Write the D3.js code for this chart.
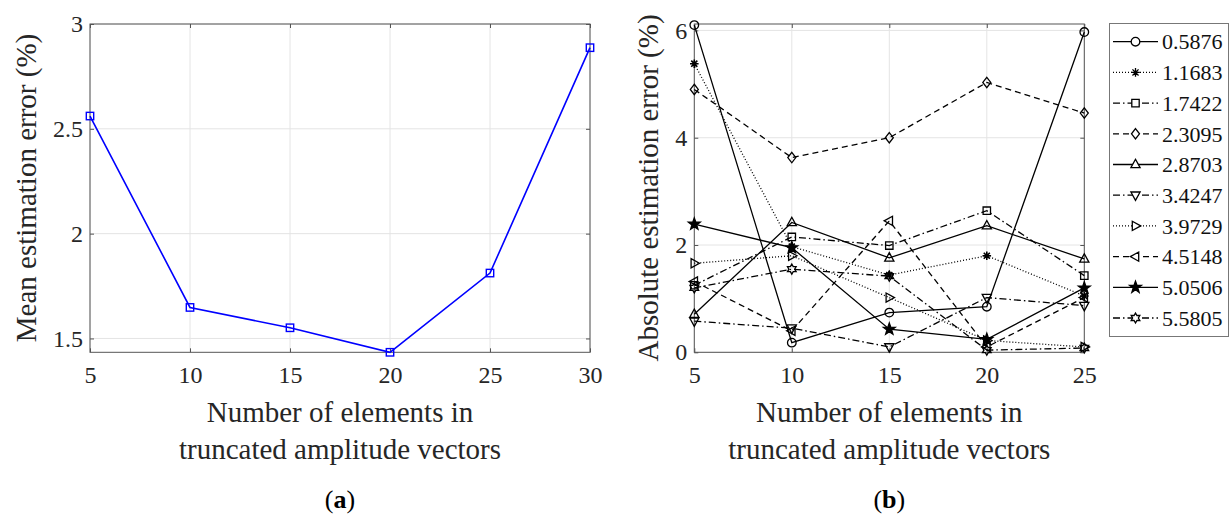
<!DOCTYPE html>
<html>
<head>
<meta charset="utf-8">
<script src="https://cdn.jsdelivr.net/npm/d3@7"></script>
<style>
body { margin: 0; background: #fff; }
svg { display: block; font-family: "Liberation Serif", "DejaVu Serif", serif; }
</style>
</head>
<body>
<svg width="1230" height="518"></svg>
<script>
// panel (a): mean error against number of elements
const nElemA = [5, 10, 15, 20, 25, 30];
const meanErr = [2.561, 1.648, 1.551, 1.434, 1.812, 2.887];
const yTicksA = [1.5, 2, 2.5, 3];

// panel (b): absolute error for each frequency
const nElemB = [5, 10, 15, 20, 25];
const yTicksB = [0, 2, 4, 6];
const freqLabels = ["0.5876", "1.1683", "1.7422", "2.3095", "2.8703",
                    "3.4247", "3.9729", "4.5148", "5.0506", "5.5805"];
const err0587 = [6.10, 0.18, 0.74, 0.85, 5.97];
const err1168 = [5.38, 1.97, 1.44, 1.80, 1.05];
const err1742 = [1.25, 2.15, 1.99, 2.64, 1.43];
const err2309 = [4.90, 3.63, 4.00, 5.03, 4.46];
const err2870 = [0.71, 2.42, 1.76, 2.36, 1.74];
const err3424 = [0.58, 0.45, 0.10, 1.02, 0.87];
const err3972 = [1.66, 1.80, 1.02, 0.22, 0.10];
const err4514 = [1.32, 0.40, 2.45, 0.10, 1.02];
const err5050 = [2.39, 1.95, 0.43, 0.24, 1.20];
const err5580 = [1.20, 1.55, 1.42, 0.04, 0.08];
const errB = [err0587, err1168, err1742, err2309, err2870,
              err3424, err3972, err4514, err5050, err5580];

// line style + marker for each series (matlab style)
const dashes = {solid: null, dot: "1,2", dash: "6,4", dashdot: "7,3,1.5,3"};
const lineStyle = ["solid", "dot", "dashdot", "dash", "solid", "dashdot", "dot", "dash", "solid", "dashdot"];
const markerType = ["circle", "asterisk", "square", "diamond", "tri-up", "tri-down", "tri-right", "tri-left", "pentagram", "hexagram"];

svg = d3.select("svg");
textCol = "#262626";

function polygon(pts) {
    return "M" + pts.map(function(p) {return p[0].toFixed(2) + "," + p[1].toFixed(2);}).join("L") + "Z";
}

function star(n, ro, ri) { // n-pointed star, first point up
    pts = [];
    for (i = 0; i < 2*n; i++) {
        r = i % 2 ? ri : ro;
        a = -Math.PI/2 + i*Math.PI/n;
        pts.push([r*Math.cos(a), r*Math.sin(a)]);
    }
    return polygon(pts);
}

function markerPath(type) {
    if (type == "circle") return d3.symbol().type(d3.symbolCircle).size(58)();
    if (type == "square") return polygon([[-3.7,-3.7],[3.7,-3.7],[3.7,3.7],[-3.7,3.7]]);
    if (type == "diamond") return polygon([[0,-5.2],[4,0],[0,5.2],[-4,0]]);
    if (type == "tri-up") return polygon([[0,-5.2],[4.6,3.2],[-4.6,3.2]]);
    if (type == "tri-down") return polygon([[0,5.2],[4.6,-3.2],[-4.6,-3.2]]);
    if (type == "tri-right") return polygon([[5.2,0],[-3.2,-4.6],[-3.2,4.6]]);
    if (type == "tri-left") return polygon([[-5.2,0],[3.2,-4.6],[3.2,4.6]]);
    if (type == "pentagram") return star(5, 6.2, 2.5);
    if (type == "hexagram") return star(6, 5, 2.9);
    // asterisk: + and x strokes
    r = 4.3; q = r*0.707;
    return "M" + (-r) + ",0L" + r + ",0M0," + (-r) + "L0," + r +
           "M" + (-q) + "," + (-q) + "L" + q + "," + q + "M" + (-q) + "," + q + "L" + q + "," + (-q);
}

function markerFill(type) {
    return type == "pentagram" ? "#000" : "none";
}

function build_axes(x, y, xTicks, yTicks) {
    x0 = x.range()[0]; x1 = x.range()[1];
    yb = y.range()[0]; yt = y.range()[1];
    g = svg.append("g");

    g.selectAll(".gx").data(xTicks).enter().append("line") // vertical grid
    .attr("x1", function(d) {return x(d);})
    .attr("x2", function(d) {return x(d);})
    .attr("y1", yt).attr("y2", yb)
    .attr("stroke", "#e4e4e4");

    g.selectAll(".gy").data(yTicks).enter().append("line") // horizontal grid
    .attr("y1", function(d) {return y(d);})
    .attr("y2", function(d) {return y(d);})
    .attr("x1", x0).attr("x2", x1)
    .attr("stroke", "#e4e4e4");

    axes = [
        g.append("g").attr("transform", "translate(0," + yb + ")")
         .call(d3.axisBottom(x).tickValues(xTicks).tickSizeInner(-4).tickSizeOuter(0).tickPadding(14)),
        g.append("g").attr("transform", "translate(0," + yt + ")")
         .call(d3.axisTop(x).tickValues(xTicks).tickSizeInner(-4).tickSizeOuter(0).tickFormat("")),
        g.append("g").attr("transform", "translate(" + x0 + ",0)")
         .call(d3.axisLeft(y).tickValues(yTicks).tickSizeInner(-4).tickSizeOuter(0).tickPadding(7).tickFormat(function(d) {return String(d);})),
        g.append("g").attr("transform", "translate(" + x1 + ",0)")
         .call(d3.axisRight(y).tickValues(yTicks).tickSizeInner(-4).tickSizeOuter(0).tickFormat(""))
    ];
    axes.forEach(function(a) {
        a.attr("font-family", null).attr("font-size", null);
        a.select(".domain").remove();
        a.selectAll(".tick line").attr("stroke", "#555");
        a.selectAll(".tick text").attr("font-size", 24).attr("fill", textCol);
    });

    g.append("rect") // box
    .attr("x", x0).attr("y", yt)
    .attr("width", x1 - x0).attr("height", yb - yt)
    .attr("fill", "none")
    .attr("stroke", "#555");
    return g;
}

function axis_labels(cx, ylabX, ylab, tag) {
    svg.append("text")
    .attr("transform", "translate(" + ylabX + ",188) rotate(-90)")
    .attr("text-anchor", "middle")
    .attr("font-size", 29).attr("fill", textCol)
    .text(ylab);

    svg.append("text")
    .attr("x", cx).attr("y", 421.5)
    .attr("text-anchor", "middle")
    .attr("font-size", 29).attr("fill", textCol)
    .text("Number of elements in");
    svg.append("text")
    .attr("x", cx).attr("y", 459)
    .attr("text-anchor", "middle")
    .attr("font-size", 29).attr("fill", textCol)
    .text("truncated amplitude vectors");

    t = svg.append("text")
    .attr("x", cx).attr("y", 508)
    .attr("text-anchor", "middle")
    .attr("font-size", 26).attr("fill", "#000");
    t.append("tspan").text("(");
    t.append("tspan").attr("font-weight", "bold").text(tag);
    t.append("tspan").text(")");
}

// ---- panel (a)
xA = d3.scaleLinear().domain([5, 30]).range([90, 590]);
yA = d3.scaleLinear().domain([d3.min(meanErr), 3]).range([352.3, 24]);
build_axes(xA, yA, nElemA, yTicksA);

svg.append("path")
.datum(nElemA.map(function(n, i) {return [n, meanErr[i]];}))
.attr("fill", "none")
.attr("stroke", "#0000ff")
.attr("stroke-width", 1.6)
.attr("d", d3.line().x(function(d) {return xA(d[0]);}).y(function(d) {return yA(d[1]);}));

svg.selectAll(".ma")
.data(nElemA.map(function(n, i) {return [n, meanErr[i]];}))
.enter().append("rect")
.attr("x", function(d) {return xA(d[0]) - 3.7;})
.attr("y", function(d) {return yA(d[1]) - 3.7;})
.attr("width", 7.4).attr("height", 7.4)
.attr("fill", "none")
.attr("stroke", "#0000ff")
.attr("stroke-width", 1.4);

axis_labels(340, 36, "Mean estimation error (%)", "a");

// ---- panel (b)
xB = d3.scaleLinear().domain([5, 25]).range([694.3, 1084.3]);
yB = d3.scaleLinear().domain([0, 6.12]).range([352.3, 24]);
build_axes(xB, yB, nElemB, yTicksB);

lineB = d3.line().x(function(d) {return xB(d[0]);}).y(function(d) {return yB(d[1]);});

errB.forEach(function(vals, k) {
    pts = nElemB.map(function(n, i) {return [n, vals[i]];});
    svg.append("path")
    .datum(pts)
    .attr("fill", "none")
    .attr("stroke", "#000")
    .attr("stroke-width", 1.3)
    .attr("stroke-dasharray", dashes[lineStyle[k]])
    .attr("d", lineB);

    svg.selectAll(".mk" + k)
    .data(pts)
    .enter().append("path")
    .attr("transform", function(d) {return "translate(" + xB(d[0]) + "," + yB(d[1]) + ")";})
    .attr("d", markerPath(markerType[k]))
    .attr("fill", markerFill(markerType[k]))
    .attr("stroke", "#000")
    .attr("stroke-width", markerType[k] == "asterisk" ? 1.6 : 1.3);
});

axis_labels(889.3, 658, "Absolute estimation error (%)", "b");

// legend
leg = svg.append("g");
leg.append("rect")
.attr("x", 1109.5).attr("y", 23.5)
.attr("width", 119).attr("height", 313)
.attr("fill", "#fff")
.attr("stroke", "#777");

rowY = d3.scalePoint().domain(freqLabels).range([41.7, 318]);

rows = leg.selectAll(".row").data(freqLabels).enter().append("g")
.attr("transform", function(d) {return "translate(0," + rowY(d) + ")";});

rows.append("line")
.attr("x1", 1113).attr("x2", 1158)
.attr("stroke", "#000")
.attr("stroke-width", 1.3)
.attr("stroke-dasharray", function(d, k) {return dashes[lineStyle[k]];});

rows.append("path")
.attr("transform", "translate(1135.5,0)")
.attr("d", function(d, k) {return markerPath(markerType[k]);})
.attr("fill", function(d, k) {return markerFill(markerType[k]) == "none" ? "#fff" : "#000";})
.attr("stroke", "#000")
.attr("stroke-width", 1.3);

rows.append("text")
.attr("x", 1162).attr("y", 0)
.attr("dy", "0.35em")
.attr("font-size", 22)
.attr("fill", "#111")
.text(function(d) {return d;});
</script>
</body>
</html>
